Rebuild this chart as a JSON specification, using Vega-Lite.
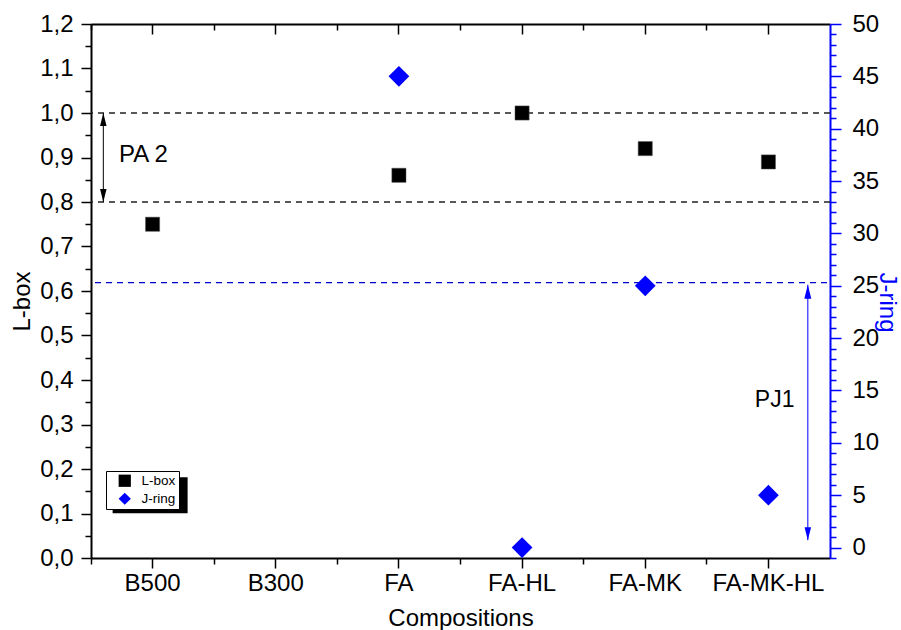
{
  "$schema": "https://vega.github.io/schema/vega-lite/v6.json",
  "width": 739,
  "height": 534,
  "autosize": "none",
  "padding": {"left": 91, "top": 24, "right": 71, "bottom": 72},
  "config": {
    "view": {"stroke": null},
    "font": "Liberation Sans",
    "axis": {
      "labelFont": "Liberation Sans", "titleFont": "Liberation Sans",
      "labelFontSize": 24, "titleFontSize": 24, "titleFontWeight": "normal",
      "labelColor": "black", "titleColor": "black",
      "domainColor": "black", "tickColor": "black",
      "domainWidth": 2, "tickWidth": 1.5, "grid": false,
      "labelFlush": false, "labelOverlap": false
    }
  },
  "datasets": {
    "main": [
      {"comp": "B500", "lbox": 0.75, "jring": null},
      {"comp": "B300", "lbox": null, "jring": null},
      {"comp": "FA", "lbox": 0.86, "jring": 45},
      {"comp": "FA-HL", "lbox": 1.0, "jring": 0},
      {"comp": "FA-MK", "lbox": 0.92, "jring": 25},
      {"comp": "FA-MK-HL", "lbox": 0.89, "jring": 5}
    ],
    "pa": [{"comp": "B500", "top": 1.0, "bottom": 0.8, "labely": 0.906, "label": "PA 2"}],
    "pj": [{"comp": "FA-MK-HL", "top": 25.1, "bottom": 0.7, "labely": 14.1, "label": "PJ1"}],
    "shadow": [{"comp": "B500", "y": 0.141}],
    "blackrefs": [{"level": 1.0}, {"level": 0.8}],
    "bluerefs": [{"level": 25.3}]
  },
  "layer": [
    {
      "data": {"name": "shadow"},
      "mark": {"type": "point", "shape": "M-1,-0.48H1V0.48H-1Z", "filled": true, "color": "black", "opacity": 1, "size": 5625, "strokeWidth": 0},
      "encoding": {
        "x": {"field": "comp", "type": "nominal", "bandPosition": 0.48, "scale": {"type": "band", "domain": ["B500", "B300", "FA", "FA-HL", "FA-MK", "FA-MK-HL"], "paddingInner": 0, "paddingOuter": 0}, "axis": null},
        "y": {"field": "y", "type": "quantitative", "scale": {"domain": [0, 1.2], "nice": false}, "axis": null}
      }
    },
    {
      "data": {"name": "blackrefs"},
      "mark": {"type": "rule", "color": "#222222", "strokeWidth": 1.4, "strokeDash": [6, 5], "x2Offset": 30},
      "encoding": {
        "y": {"field": "level", "type": "quantitative", "scale": {"domain": [0, 1.2], "nice": false}, "axis": null}
      }
    },
    {
      "data": {"name": "bluerefs"},
      "mark": {"type": "rule", "color": "#0000cc", "strokeWidth": 1.3, "strokeDash": [6, 5], "xOffset": -3, "x2Offset": 28},
      "encoding": {
        "y": {"field": "level", "type": "quantitative", "scale": {"domain": [-1, 50], "nice": false}, "axis": null}
      }
    },
    {
      "data": {"name": "pa"},
      "mark": {"type": "rule", "color": "black", "strokeWidth": 1},
      "encoding": {
        "x": {"field": "comp", "type": "nominal", "bandPosition": 0.1, "scale": {"type": "band", "domain": ["B500", "B300", "FA", "FA-HL", "FA-MK", "FA-MK-HL"], "paddingInner": 0, "paddingOuter": 0},
              "axis": {"orient": "bottom", "bandPosition": 0, "tickSize": 6, "labels": false, "domain": false, "title": null}},
        "y": {"field": "top", "type": "quantitative", "scale": {"domain": [0, 1.2], "nice": false}, "axis": null},
        "y2": {"field": "bottom"}
      }
    },
    {
      "data": {"name": "pa"},
      "mark": {"type": "point", "shape": "M0,0L-0.25,1L0.25,1Z", "filled": true, "color": "black", "opacity": 1, "size": 676, "strokeWidth": 0},
      "encoding": {
        "x": {"field": "comp", "type": "nominal", "bandPosition": 0.1, "scale": {"type": "band", "domain": ["B500", "B300", "FA", "FA-HL", "FA-MK", "FA-MK-HL"], "paddingInner": 0, "paddingOuter": 0},
              "axis": {"orient": "top", "bandPosition": 0, "tickSize": -6, "labels": false, "domain": false, "title": null}},
        "y": {"field": "top", "type": "quantitative", "scale": {"domain": [0, 1.2], "nice": false}, "axis": null}
      }
    },
    {
      "data": {"name": "pa"},
      "mark": {"type": "point", "shape": "M0,0L-0.25,-1L0.25,-1Z", "filled": true, "color": "black", "opacity": 1, "size": 676, "strokeWidth": 0},
      "encoding": {
        "x": {"field": "comp", "type": "nominal", "bandPosition": 0.1, "scale": {"type": "band", "domain": ["B500", "B300", "FA", "FA-HL", "FA-MK", "FA-MK-HL"], "paddingInner": 0, "paddingOuter": 0}, "axis": null},
        "y": {"field": "bottom", "type": "quantitative", "scale": {"domain": [0, 1.2], "nice": false}, "axis": null}
      }
    },
    {
      "data": {"name": "pa"},
      "mark": {"type": "text", "align": "left", "baseline": "middle", "fontSize": 24, "font": "Liberation Sans", "color": "black"},
      "encoding": {
        "x": {"field": "comp", "type": "nominal", "bandPosition": 0.227, "scale": {"type": "band", "domain": ["B500", "B300", "FA", "FA-HL", "FA-MK", "FA-MK-HL"], "paddingInner": 0, "paddingOuter": 0}, "axis": null},
        "y": {"field": "labely", "type": "quantitative", "scale": {"domain": [0, 1.2], "nice": false}, "axis": null},
        "text": {"field": "label"}
      }
    },
    {
      "data": {"name": "pj"},
      "mark": {"type": "rule", "color": "blue", "strokeWidth": 1},
      "encoding": {
        "x": {"field": "comp", "type": "nominal", "bandPosition": 0.82, "scale": {"type": "band", "domain": ["B500", "B300", "FA", "FA-HL", "FA-MK", "FA-MK-HL"], "paddingInner": 0, "paddingOuter": 0}, "axis": null},
        "y": {"field": "top", "type": "quantitative", "scale": {"domain": [-1, 50], "nice": false}, "axis": null},
        "y2": {"field": "bottom"}
      }
    },
    {
      "data": {"name": "pj"},
      "mark": {"type": "point", "shape": "M0,0L-0.25,1L0.25,1Z", "filled": true, "color": "blue", "opacity": 1, "size": 784, "strokeWidth": 0},
      "encoding": {
        "x": {"field": "comp", "type": "nominal", "bandPosition": 0.82, "scale": {"type": "band", "domain": ["B500", "B300", "FA", "FA-HL", "FA-MK", "FA-MK-HL"], "paddingInner": 0, "paddingOuter": 0}, "axis": null},
        "y": {"field": "top", "type": "quantitative", "scale": {"domain": [-1, 50], "nice": false}, "axis": null}
      }
    },
    {
      "data": {"name": "pj"},
      "mark": {"type": "point", "shape": "M0,0L-0.25,-1L0.25,-1Z", "filled": true, "color": "blue", "opacity": 1, "size": 676, "strokeWidth": 0},
      "encoding": {
        "x": {"field": "comp", "type": "nominal", "bandPosition": 0.82, "scale": {"type": "band", "domain": ["B500", "B300", "FA", "FA-HL", "FA-MK", "FA-MK-HL"], "paddingInner": 0, "paddingOuter": 0}, "axis": null},
        "y": {"field": "bottom", "type": "quantitative", "scale": {"domain": [-1, 50], "nice": false}, "axis": null}
      }
    },
    {
      "data": {"name": "pj"},
      "mark": {"type": "text", "align": "left", "baseline": "middle", "fontSize": 23, "font": "Liberation Sans", "color": "black"},
      "encoding": {
        "x": {"field": "comp", "type": "nominal", "bandPosition": 0.39, "scale": {"type": "band", "domain": ["B500", "B300", "FA", "FA-HL", "FA-MK", "FA-MK-HL"], "paddingInner": 0, "paddingOuter": 0}, "axis": null},
        "y": {"field": "labely", "type": "quantitative", "scale": {"domain": [-1, 50], "nice": false}, "axis": null},
        "text": {"field": "label"}
      }
    },
    {
      "data": {"name": "main"},
      "mark": {"type": "point", "filled": true, "size": 200, "opacity": 1, "stroke": "#555555", "strokeWidth": 0.5},
      "encoding": {
        "x": {"field": "comp", "type": "nominal", "scale": {"type": "band", "domain": ["B500", "B300", "FA", "FA-HL", "FA-MK", "FA-MK-HL"], "paddingInner": 0, "paddingOuter": 0},
              "axis": {"orient": "bottom", "title": "Compositions", "tickSize": 10, "labelPadding": 3, "titlePadding": 11, "labelAngle": 0}},
        "y": {"field": "lbox", "type": "quantitative", "scale": {"domain": [0, 1.2], "nice": false},
              "axis": {"orient": "left", "title": "L-box", "titlePadding": 5, "labelPadding": 8, "titleY": 277,
                       "values": [0, 0.05, 0.1, 0.15, 0.2, 0.25, 0.3, 0.35, 0.4, 0.45, 0.5, 0.55, 0.6, 0.65, 0.7, 0.75, 0.8, 0.85, 0.9, 0.95, 1, 1.05, 1.1, 1.15, 1.2],
                       "tickSize": {"condition": {"test": "abs(datum.value*10 - round(datum.value*10)) < 0.01", "value": 10}, "value": 6},
                       "labelExpr": "abs(datum.value*10 - round(datum.value*10)) < 0.01 ? replace(format(datum.value, '.1f'), '.', ',') : ''"}},
        "color": {"datum": "L-box", "scale": {"domain": ["L-box", "J-ring"], "range": ["black", "blue"]},
                  "legend": {"orient": "none", "legendX": 15, "legendY": 447, "title": null, "fillColor": "white", "strokeColor": "black", "padding": 3, "labelFontSize": 13.5, "labelFont": "Liberation Sans", "labelColor": "black", "symbolSize": 150, "symbolStrokeWidth": 0, "symbolOffset": 9, "labelOffset": 10, "rowPadding": 3}},
        "shape": {"datum": "L-box", "scale": {"domain": ["L-box", "J-ring"], "range": ["square", "diamond"]},
                  "legend": {"orient": "none", "legendX": 15, "legendY": 447, "title": null, "fillColor": "white", "strokeColor": "black", "padding": 3, "labelFontSize": 13.5, "labelFont": "Liberation Sans", "labelColor": "black", "symbolSize": 150, "symbolStrokeWidth": 0, "symbolOffset": 9, "labelOffset": 10, "rowPadding": 3}}
      }
    },
    {
      "data": {"name": "main"},
      "mark": {"type": "point", "filled": true, "size": 430, "opacity": 1},
      "encoding": {
        "x": {"field": "comp", "type": "nominal", "scale": {"type": "band", "domain": ["B500", "B300", "FA", "FA-HL", "FA-MK", "FA-MK-HL"], "paddingInner": 0, "paddingOuter": 0},
              "axis": {"orient": "top", "tickSize": -10, "labels": false, "title": null, "domain": true}},
        "y": {"field": "jring", "type": "quantitative", "scale": {"domain": [-1, 50], "nice": false},
              "axis": {"orient": "right", "title": "J-ring", "titleColor": "blue", "titleAngle": 90, "titlePadding": -4, "labelPadding": 11, "titleY": 278,
                       "domainColor": "blue", "tickColor": "blue",
                       "values": [-1, 0, 1, 2, 3, 4, 5, 6, 7, 8, 9, 10, 11, 12, 13, 14, 15, 16, 17, 18, 19, 20, 21, 22, 23, 24, 25, 26, 27, 28, 29, 30, 31, 32, 33, 34, 35, 36, 37, 38, 39, 40, 41, 42, 43, 44, 45, 46, 47, 48, 49, 50],
                       "tickSize": {"condition": {"test": "datum.value % 5 == 0", "value": 11}, "value": 6},
                       "labelExpr": "datum.value % 5 == 0 ? datum.label : ''"}},
        "color": {"datum": "J-ring"},
        "shape": {"datum": "J-ring"}
      }
    }
  ],
  "resolve": {"scale": {"y": "independent"}, "axis": {"x": "independent", "y": "independent"}}
}
